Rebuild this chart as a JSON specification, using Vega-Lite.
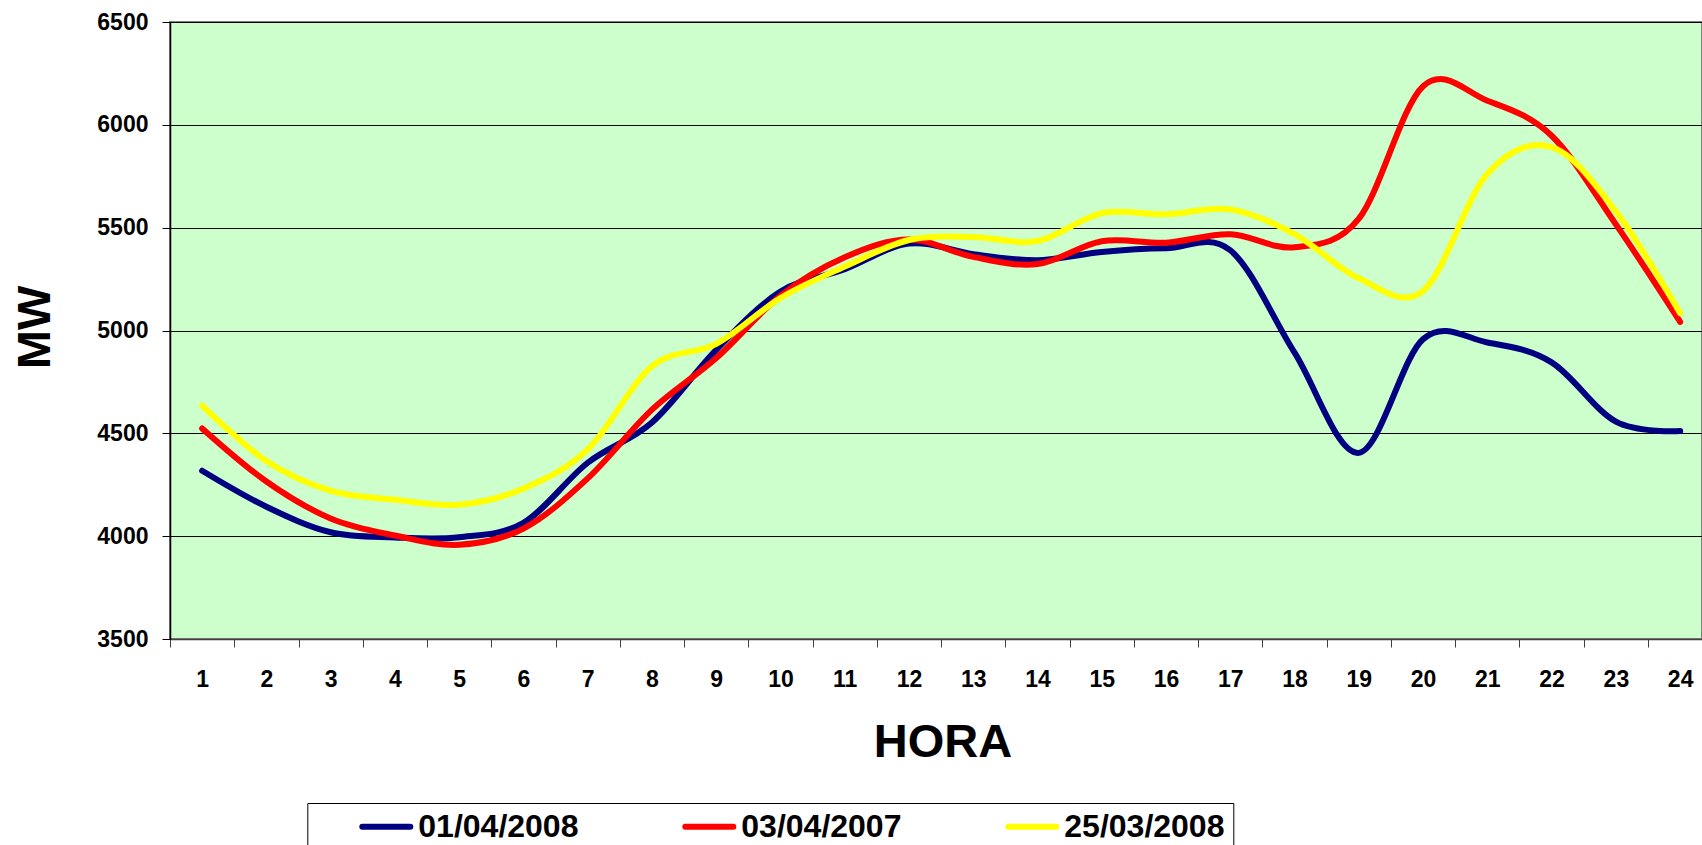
{
  "$schema": "https://vega.github.io/schema/vega-lite/v6.json",
  "width": 1532,
  "height": 617,
  "autosize": {"type": "none"},
  "padding": {"left": 170, "top": 22, "right": 0, "bottom": 206},
  "background": "white",
  "config": {
    "font": "Liberation Sans",
    "view": {"fill": "#CCFFCC", "stroke": "#808080", "strokeWidth": 2}
  },
  "datasets": {
    "consumo": [
      {"hora": 1, "fecha": "01/04/2008", "mw": 4318}, {"hora": 2, "fecha": "01/04/2008", "mw": 4143}, {"hora": 3, "fecha": "01/04/2008", "mw": 4019}, {"hora": 4, "fecha": "01/04/2008", "mw": 3994}, {"hora": 5, "fecha": "01/04/2008", "mw": 3995}, {"hora": 6, "fecha": "01/04/2008", "mw": 4065}, {"hora": 7, "fecha": "01/04/2008", "mw": 4357}, {"hora": 8, "fecha": "01/04/2008", "mw": 4553}, {"hora": 9, "fecha": "01/04/2008", "mw": 4906}, {"hora": 10, "fecha": "01/04/2008", "mw": 5189}, {"hora": 11, "fecha": "01/04/2008", "mw": 5298}, {"hora": 12, "fecha": "01/04/2008", "mw": 5423}, {"hora": 13, "fecha": "01/04/2008", "mw": 5371}, {"hora": 14, "fecha": "01/04/2008", "mw": 5342}, {"hora": 15, "fecha": "01/04/2008", "mw": 5382}, {"hora": 16, "fecha": "01/04/2008", "mw": 5400}, {"hora": 17, "fecha": "01/04/2008", "mw": 5390}, {"hora": 18, "fecha": "01/04/2008", "mw": 4892}, {"hora": 19, "fecha": "01/04/2008", "mw": 4405}, {"hora": 20, "fecha": "01/04/2008", "mw": 4958}, {"hora": 21, "fecha": "01/04/2008", "mw": 4942}, {"hora": 22, "fecha": "01/04/2008", "mw": 4845}, {"hora": 23, "fecha": "01/04/2008", "mw": 4557}, {"hora": 24, "fecha": "01/04/2008", "mw": 4511},
      {"hora": 1, "fecha": "03/04/2007", "mw": 4524}, {"hora": 2, "fecha": "03/04/2007", "mw": 4266}, {"hora": 3, "fecha": "03/04/2007", "mw": 4086}, {"hora": 4, "fecha": "03/04/2007", "mw": 4003}, {"hora": 5, "fecha": "03/04/2007", "mw": 3958}, {"hora": 6, "fecha": "03/04/2007", "mw": 4037}, {"hora": 7, "fecha": "03/04/2007", "mw": 4281}, {"hora": 8, "fecha": "03/04/2007", "mw": 4615}, {"hora": 9, "fecha": "03/04/2007", "mw": 4866}, {"hora": 10, "fecha": "03/04/2007", "mw": 5169}, {"hora": 11, "fecha": "03/04/2007", "mw": 5356}, {"hora": 12, "fecha": "03/04/2007", "mw": 5442}, {"hora": 13, "fecha": "03/04/2007", "mw": 5358}, {"hora": 14, "fecha": "03/04/2007", "mw": 5323}, {"hora": 15, "fecha": "03/04/2007", "mw": 5434}, {"hora": 16, "fecha": "03/04/2007", "mw": 5427}, {"hora": 17, "fecha": "03/04/2007", "mw": 5468}, {"hora": 18, "fecha": "03/04/2007", "mw": 5405}, {"hora": 19, "fecha": "03/04/2007", "mw": 5544}, {"hora": 20, "fecha": "03/04/2007", "mw": 6188}, {"hora": 21, "fecha": "03/04/2007", "mw": 6117}, {"hora": 22, "fecha": "03/04/2007", "mw": 5947}, {"hora": 23, "fecha": "03/04/2007", "mw": 5516}, {"hora": 24, "fecha": "03/04/2007", "mw": 5042},
      {"hora": 1, "fecha": "25/03/2008", "mw": 4635}, {"hora": 2, "fecha": "25/03/2008", "mw": 4365}, {"hora": 3, "fecha": "25/03/2008", "mw": 4221}, {"hora": 4, "fecha": "25/03/2008", "mw": 4177}, {"hora": 5, "fecha": "25/03/2008", "mw": 4153}, {"hora": 6, "fecha": "25/03/2008", "mw": 4232}, {"hora": 7, "fecha": "25/03/2008", "mw": 4422}, {"hora": 8, "fecha": "25/03/2008", "mw": 4826}, {"hora": 9, "fecha": "25/03/2008", "mw": 4935}, {"hora": 10, "fecha": "25/03/2008", "mw": 5158}, {"hora": 11, "fecha": "25/03/2008", "mw": 5311}, {"hora": 12, "fecha": "25/03/2008", "mw": 5440}, {"hora": 13, "fecha": "25/03/2008", "mw": 5455}, {"hora": 14, "fecha": "25/03/2008", "mw": 5435}, {"hora": 15, "fecha": "25/03/2008", "mw": 5571}, {"hora": 16, "fecha": "25/03/2008", "mw": 5565}, {"hora": 17, "fecha": "25/03/2008", "mw": 5589}, {"hora": 18, "fecha": "25/03/2008", "mw": 5469}, {"hora": 19, "fecha": "25/03/2008", "mw": 5254}, {"hora": 20, "fecha": "25/03/2008", "mw": 5193}, {"hora": 21, "fecha": "25/03/2008", "mw": 5762}, {"hora": 22, "fecha": "25/03/2008", "mw": 5892}, {"hora": 23, "fecha": "25/03/2008", "mw": 5579}, {"hora": 24, "fecha": "25/03/2008", "mw": 5084}
    ]
  },
  "data": {"name": "consumo"},
  "mark": {"type": "line", "interpolate": "cardinal", "tension": 0, "strokeWidth": 6, "strokeCap": "round", "strokeJoin": "round"},
  "encoding": {
    "x": {
      "field": "hora",
      "type": "quantitative",
      "scale": {"domain": [0.5, 24.34], "nice": false, "zero": false},
      "axis": {
        "values": [1, 2, 3, 4, 5, 6, 7, 8, 9, 10, 11, 12, 13, 14, 15, 16, 17, 18, 19, 20, 21, 22, 23, 24],
        "format": "d",
        "title": "HORA",
        "titleFontSize": 47,
        "titleFontWeight": "bold",
        "titleColor": "black",
        "titleX": 772.5,
        "titleY": 117,
        "titleAlign": "center",
        "titleBaseline": "alphabetic",
        "labelFontSize": 23,
        "labelFontWeight": "bold",
        "labelColor": "black",
        "labelPadding": 21,
        "labelOverlap": false,
        "labelFlush": false,
        "labelBound": false,
        "tickSize": 8,
        "tickColor": "#404040",
        "tickOffset": -32.13,
        "labelOffset": 32.13,
        "domainColor": "#404040",
        "domainWidth": 1.5,
        "grid": false
      }
    },
    "y": {
      "field": "mw",
      "type": "quantitative",
      "scale": {"domain": [3500, 6500], "nice": false, "zero": false},
      "axis": {
        "values": [3500, 4000, 4500, 5000, 5500, 6000, 6500],
        "format": "d",
        "title": "MW",
        "titleFontSize": 47,
        "titleFontWeight": "bold",
        "titleColor": "black",
        "titleAngle": -90,
        "titleX": -121,
        "titleY": 305,
        "titleAlign": "center",
        "titleBaseline": "alphabetic",
        "labelFontSize": 23,
        "labelFontWeight": "bold",
        "labelColor": "black",
        "labelPadding": 14,
        "tickSize": 8,
        "tickColor": "black",
        "domainColor": "black",
        "domainWidth": 1.5,
        "grid": true,
        "gridColor": "black",
        "gridOpacity": 1,
        "gridWidth": 1
      }
    },
    "color": {
      "field": "fecha",
      "type": "nominal",
      "scale": {"domain": ["01/04/2008", "03/04/2007", "25/03/2008"], "range": ["#000080", "#FF0000", "#FFFF00"]},
      "legend": {
        "orient": "none",
        "legendX": 137.3,
        "legendY": 781,
        "direction": "horizontal",
        "columns": 3,
        "title": null,
        "symbolType": "stroke",
        "symbolSize": 2304,
        "symbolStrokeWidth": 6,
        "symbolOffset": 44,
        "padding": 8,
        "clipHeight": 31,
        "labelFontSize": 32,
        "labelFontWeight": "bold",
        "labelColor": "black",
        "labelOffset": 5,
        "labelLimit": 400,
        "columnPadding": 59,
        "strokeColor": "black",
        "fillColor": "white",
        "encode": {"symbols": {"update": {"strokeCap": {"value": "round"}}}}
      }
    }
  }
}
